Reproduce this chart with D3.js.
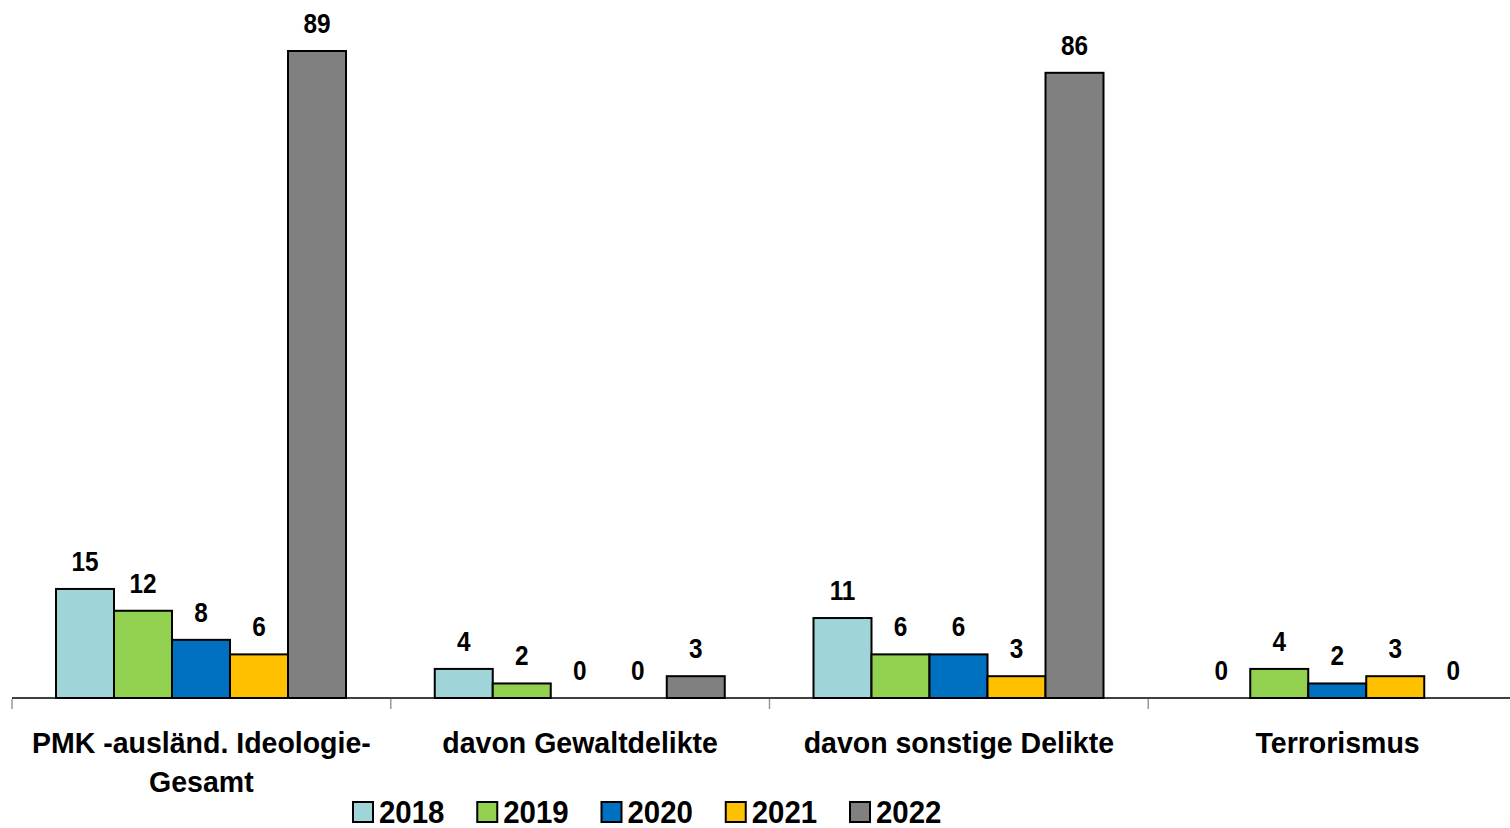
<!DOCTYPE html>
<html>
<head>
<meta charset="utf-8">
<script src="https://d3js.org/d3.v7.min.js"></script>
<style>
  body { margin: 0; background: #fff; }
  text { font-family: "Liberation Sans Narrow", "Arial Narrow", "Liberation Sans", Arial, sans-serif; font-weight: bold; fill: #000; }
</style>
</head>
<body>
<svg width="1510" height="828"></svg>
<script>
// data
var categories = [["PMK -ausländ. Ideologie-", "Gesamt"], ["davon Gewaltdelikte"], ["davon sonstige Delikte"], ["Terrorismus"]];
var years = ["2018", "2019", "2020", "2021", "2022"];
var v2018 = [15, 4, 11, 0];
var v2019 = [12, 2, 6, 4];
var v2020 = [8, 0, 6, 2];
var v2021 = [6, 0, 3, 3];
var v2022 = [89, 3, 86, 0];
var colors = ["#9fd4d8", "#92d050", "#0070c0", "#ffc000", "#808080"];

var series = [v2018, v2019, v2020, v2021, v2022];
var svg = d3.select("svg");
var baseY = 698;

var x0 = d3.scaleBand().domain(d3.range(categories.length)).range([12, 1527]);
var x1 = d3.scaleBand().domain(years).range([44, 334]);
var y = d3.scaleLinear().domain([0, 89]).range([baseY, 51]);

// squeezed text (the original uses a narrow face)
function label(parent, x, yy, txt, size, sx, anchor) {
  return parent.append("g")
    .attr("transform", "translate(" + x + "," + yy + ") scale(" + sx + ",1)")
    .append("text")
    .attr("text-anchor", anchor || "middle")
    .style("font-size", size + "px")
    .text(txt);
}

// bars
categories.forEach(function(c, ci) {
  var g = svg.append("g").attr("transform", "translate(" + x0(ci) + ",0)");
  years.forEach(function(yr, si) {
    var v = series[si][ci];
    if (v > 0) {
      g.append("rect")
        .attr("x", x1(yr))
        .attr("y", y(v))
        .attr("width", x1.bandwidth())
        .attr("height", baseY - y(v))
        .attr("fill", colors[si])
        .attr("stroke", "#000")
        .attr("stroke-width", 2);
    }
    label(g, x1(yr) + x1.bandwidth() / 2, y(v) - 18, v, 28, 0.87);
  });
});

// axis
svg.append("line").attr("x1", 12).attr("x2", 1510).attr("y1", baseY).attr("y2", baseY)
  .attr("stroke", "#000").attr("stroke-width", 1.5);
categories.forEach(function(c, ci) {
  svg.append("line").attr("x1", x0(ci)).attr("x2", x0(ci))
    .attr("y1", baseY + 1).attr("y2", baseY + 11)
    .attr("stroke", "#999").attr("stroke-width", 1.5);
  c.forEach(function(line, li) {
    svg.append("g")
      .attr("transform", "translate(" + (x0(ci) + x0.bandwidth() / 2) + "," + (753 + li * 39) + ") scale(1,1.05)")
      .append("text")
      .attr("text-anchor", "middle")
      .style("font-size", "28.5px")
      .text(line);
  });
});

// legend
years.forEach(function(yr, si) {
  var lx = 353 + si * 124.25;
  svg.append("rect").attr("x", lx).attr("y", 802).attr("width", 20).attr("height", 20)
    .attr("fill", colors[si]).attr("stroke", "#000").attr("stroke-width", 2);
  label(svg, lx + 26, 823, yr, 32, 0.92, "start");
});
</script>
</body>
</html>
